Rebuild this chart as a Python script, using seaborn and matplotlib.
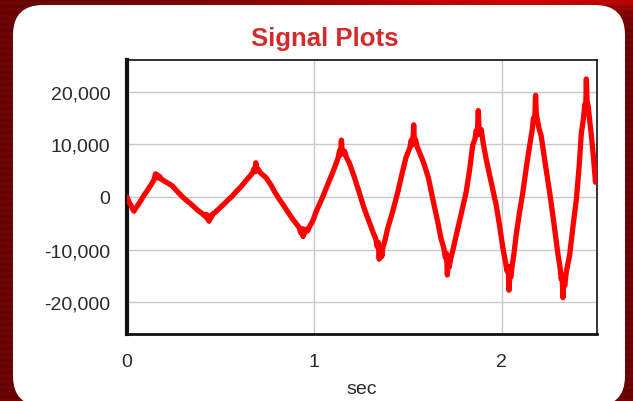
import numpy as np
import pandas as pd
import matplotlib
matplotlib.use("Agg")
import matplotlib.pyplot as plt
from matplotlib.patches import FancyBboxPatch
from matplotlib.ticker import FuncFormatter, MultipleLocator, FixedLocator
import seaborn as sns

# ---- data ----
t_sec = [0.000, 0.010, 0.020, 0.030, 0.037, 0.045, 0.055, 0.070, 0.090, 0.110,
         0.130, 0.145, 0.152, 0.157, 0.162, 0.168, 0.175, 0.182, 0.192, 0.205,
         0.220, 0.242, 0.270, 0.300, 0.330, 0.350, 0.380, 0.400, 0.415, 0.422,
         0.428, 0.433, 0.438, 0.443, 0.450, 0.458, 0.468, 0.480, 0.510, 0.530,
         0.560, 0.580, 0.610, 0.635, 0.660, 0.672, 0.679, 0.684, 0.688, 0.693,
         0.700, 0.712, 0.742, 0.770, 0.790, 0.813, 0.840, 0.860, 0.884, 0.905,
         0.920, 0.928, 0.935, 0.940, 0.945, 0.950, 0.957, 0.965, 0.975, 0.985,
         0.995, 1.010, 1.030, 1.045, 1.065, 1.080, 1.098, 1.115, 1.128, 1.135,
         1.140, 1.145, 1.149, 1.155, 1.162, 1.172, 1.187, 1.210, 1.240, 1.265,
         1.294, 1.315, 1.328, 1.336, 1.342, 1.347, 1.351, 1.356, 1.361, 1.367,
         1.375, 1.392, 1.420, 1.446, 1.470, 1.490, 1.510, 1.518, 1.523, 1.527,
         1.531, 1.535, 1.541, 1.550, 1.565, 1.585, 1.610, 1.633, 1.660, 1.677,
         1.692, 1.700, 1.706, 1.711, 1.715, 1.721, 1.728, 1.737, 1.758, 1.785,
         1.811, 1.830, 1.846, 1.858, 1.865, 1.871, 1.876, 1.880, 1.886, 1.892,
         1.902, 1.918, 1.945, 1.972, 1.990, 2.007, 2.022, 2.030, 2.036, 2.040,
         2.045, 2.050, 2.057, 2.065, 2.078, 2.095, 2.114, 2.132, 2.150, 2.163,
         2.171, 2.177, 2.182, 2.186, 2.192, 2.199, 2.212, 2.235, 2.257, 2.280,
         2.302, 2.312, 2.319, 2.324, 2.328, 2.332, 2.338, 2.346, 2.364, 2.382,
         2.400, 2.415, 2.426, 2.438, 2.445, 2.450, 2.453, 2.457, 2.463, 2.470,
         2.479, 2.490, 2.502]
signal = [0, -900, -1500, -2300, -2700, -2200, -1700, -900, 300, 1300,
          2400, 3300, 4400, 3700, 4200, 3600, 3900, 3400, 3200, 2900,
          2600, 2100, 1000, -100, -1000, -1600, -2600, -3100, -3600, -3300,
          -4100, -3500, -4600, -3700, -3900, -3200, -3000, -2600, -1600, -900,
          100, 900, 2000, 3100, 4100, 4700, 5400, 4800, 6500, 5000,
          5300, 4600, 3700, 2200, 900, -400, -1800, -2900, -4150, -5100,
          -5800, -6800, -6000, -7500, -6200, -6800, -6100, -6400, -5600, -5000,
          -4300, -2800, -1200, 0, 1800, 3100, 4600, 6200, 7500, 8800,
          8000, 10800, 8600, 8200, 8700, 7500, 6500, 4200, 900, -2000,
          -4800, -6800, -7900, -9400, -8600, -11800, -9300, -10200, -11300, -9400,
          -8600, -6000, -2600, 900, 4600, 7500, 9300, 10800, 9900, 10400,
          13700, 10600, 10900, 9500, 8200, 6400, 3600, -400, -4800, -7900,
          -9700, -11500, -10700, -14800, -12000, -13300, -11800, -10600, -7300, -3200,
          900, 5200, 9800, 11000, 12600, 11800, 16400, 13000, 12000, 12800,
          10300, 7200, 2800, -1600, -5500, -9600, -12600, -14100, -13200, -17700,
          -14400, -15200, -13000, -11200, -7300, -3200, 900, 5500, 9700, 12500,
          15000, 14200, 19300, 15600, 14600, 13200, 11600, 6000, 900, -5000,
          -11000, -13200, -15600, -14800, -19100, -16000, -16800, -14200, -11000, -5500,
          -400, 6000, 12000, 15000, 17600, 17000, 22400, 18200, 17200, 14800,
          12000, 8000, 2800]
x_ticks = [0, 1, 2]
x_tick_labels = ["0", "1", "2"]
y_ticks = [-20000, -10000, 0, 10000, 20000]
title_text = "Signal Plots"
x_label = "sec"

df = pd.DataFrame({"sec": t_sec, "value": signal})

W, H = 633, 402
fig = plt.figure(figsize=(W / 100, H / 100), dpi=100)

# ---- background: dark red with brighter top band and thin stripes ----
bg_ax = fig.add_axes([0, 0, 1, 1], zorder=-10)
yy, xx = np.mgrid[0:H, 0:W]
r = np.full((H, W), 112.0)
g = np.full((H, W), 4.0)
b = np.full((H, W), 4.0)
top_glow = np.exp(-yy / 10.0) * np.exp(-((xx - 520) / 260.0) ** 2)
r += 120 * top_glow
stripes = ((yy // 3) % 2 == 0)
r -= 14 * stripes
img = np.stack([np.clip(r, 0, 255), g, b], axis=-1) / 255.0
bg_ax.imshow(img, extent=[0, W, H, 0], aspect="auto")
bg_ax.set_xlim(0, W)
bg_ax.set_ylim(H, 0)
bg_ax.axis("off")

# white rounded panel
panel = FancyBboxPatch((13 + 30, 6 + 30), 612 - 60, 401 - 60,
                       boxstyle="round,pad=30", transform=bg_ax.transData,
                       facecolor="white", edgecolor="none")
bg_ax.add_patch(panel)

# ---- plot ----
sns.set_style("white")
plt.rcParams["font.family"] = ["Liberation Sans", "DejaVu Sans"]
plt.rcParams["axes.unicode_minus"] = False

left, right, top, bottom = 127, 597, 61, 335
ax = fig.add_axes([left / W, 1 - bottom / H, (right - left) / W, (bottom - top) / H])
ax.set_facecolor("white")

sns.lineplot(data=df, x="sec", y="value", color="#ff0000", linewidth=3.8,
             estimator=None, sort=False, ax=ax, zorder=3)

ax.set_xlim(0, 2.51)
ax.set_ylim(-26000, 26000)
ax.xaxis.set_major_locator(FixedLocator(x_ticks))
ax.set_xticklabels(x_tick_labels)
ax.xaxis.set_minor_locator(MultipleLocator(0.25))
ax.yaxis.set_major_locator(FixedLocator(y_ticks))
ax.yaxis.set_minor_locator(MultipleLocator(2000))
ax.yaxis.set_major_formatter(FuncFormatter(lambda v, p: f"{v:,.0f}"))

ax.grid(True, which="major", color="#c8c8c8", linewidth=1.0, zorder=0)
ax.set_axisbelow(True)

ax.tick_params(axis="both", which="major", length=6, width=1.0, color="#8a8a8a",
               labelsize=14, labelcolor="#2a2a2a", direction="out", pad=6)
ax.tick_params(axis="both", which="minor", length=4, width=1.0, color="#8a8a8a",
               direction="out")
ax.tick_params(axis="x", which="major", pad=8)

for side, lw in [("left", 3.0), ("bottom", 2.0), ("top", 1.2), ("right", 1.2)]:
    ax.spines[side].set_visible(True)
    ax.spines[side].set_linewidth(lw)
    ax.spines[side].set_color("#111111")

ax.set_xlabel(x_label, fontsize=14, color="#2a2a2a", labelpad=7)
ax.set_ylabel("")

fig.text(325 / W, 1 - 46 / H, title_text, ha="center", va="baseline",
         fontsize=18.5, fontweight="bold", color="#d42a2a")

fig.savefig("out.png", dpi=100)
